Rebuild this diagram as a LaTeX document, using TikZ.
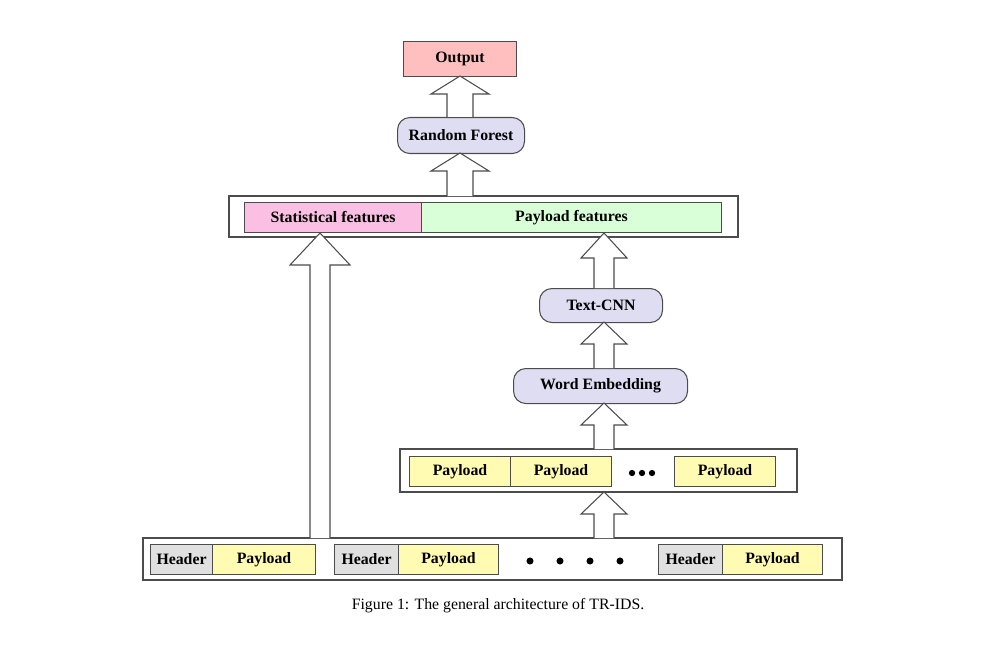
\documentclass[tikz,border=0pt]{standalone}
\usepackage{fontspec}
\setmainfont{Liberation Serif}
\begin{document}
\begin{tikzpicture}[x=0.02cm,y=-0.02cm,
  box/.style={draw=black!70,line width=0.6pt,minimum height=#1*0.02cm,inner sep=0pt,font=\bfseries\small},
  blk/.style={box=30,anchor=north west},
  rnd/.style={draw=black!70,line width=0.6pt,rounded corners=7pt,fill=cyan!15!blue!12,font=\bfseries\small,inner sep=0pt,anchor=north west},
  frame/.style={draw=black!70,line width=0.6pt}]
\useasboundingbox (0,0) rectangle (996,645);
% hollow arrow: x, ybottom, ytop, shaft half, head half, head length
\newcommand*{\hollowarr}[6]{%
  \draw[black!70,line width=0.6pt,fill=white]
  ({#1-#4},#2) -- ({#1-#4},{#3+#6}) -- ({#1-#5},{#3+#6}) -- (#1,#3)
  -- ({#1+#5},{#3+#6}) -- ({#1+#4},{#3+#6}) -- ({#1+#4},#2);}

\node[box=35,fill=red!25,minimum width=113*0.02cm,anchor=north west] (out) at (403,41) {Output};
\node[rnd,minimum width=127*0.02cm,minimum height=36*0.02cm] (rf) at (397,117) {Random Forest};

\draw[frame] (229,196) rectangle (738,237);
\node[blk,fill=magenta!25,minimum width=177*0.02cm] (sf) at (244,202) {Statistical features};
\node[blk,fill=green!15,minimum width=300*0.02cm] (pf) at (421,202) {Payload features};

\node[rnd,minimum width=123*0.02cm,minimum height=34*0.02cm] (cnn) at (539,288) {Text-CNN};
\node[rnd,minimum width=174*0.02cm,minimum height=35*0.02cm] (we) at (513,368) {Word Embedding};

\draw[frame] (400,449) rectangle (797,492);
\node[blk,fill=yellow!30,minimum width=101*0.02cm] (p1) at (409,456) {Payload};
\node[blk,fill=yellow!30,minimum width=101*0.02cm] (p2) at (510,456) {Payload};
\node[blk,fill=yellow!30,minimum width=101*0.02cm] (p3) at (674,456) {Payload};
\foreach \x in {632,642,652} \fill (\x,473) circle (1.8pt);

\draw[frame] (143,538) rectangle (842,580);
\node[blk,fill=black!12,minimum width=62*0.02cm] (h1) at (150,544) {Header};
\node[blk,fill=yellow!30,minimum width=103*0.02cm] (b1) at (212,544) {Payload};
\node[blk,fill=black!12,minimum width=64*0.02cm] (h2) at (334,544) {Header};
\node[blk,fill=yellow!30,minimum width=100*0.02cm] (b2) at (398,544) {Payload};
\node[blk,fill=black!12,minimum width=64*0.02cm] (h3) at (658,544) {Header};
\node[blk,fill=yellow!30,minimum width=100*0.02cm] (b3) at (722,544) {Payload};
\foreach \x in {530,560,590,620} \fill (\x,561) circle (2pt);

\hollowarr{460}{117}{76}{13}{29}{18}
\hollowarr{460}{196}{153}{13}{29}{18}
\hollowarr{320}{538}{233}{10}{30}{32}
\hollowarr{604}{288}{233}{10}{23}{25}
\hollowarr{604}{368}{322}{10}{23}{22}
\hollowarr{604}{449}{403}{10}{23}{22}
\hollowarr{604}{538}{492}{10}{23}{22}

\node[font=\small] (cap) at (498,606) {\textsc{Figure 1}: The general architecture of TR-IDS.};
\end{tikzpicture}
\end{document}
